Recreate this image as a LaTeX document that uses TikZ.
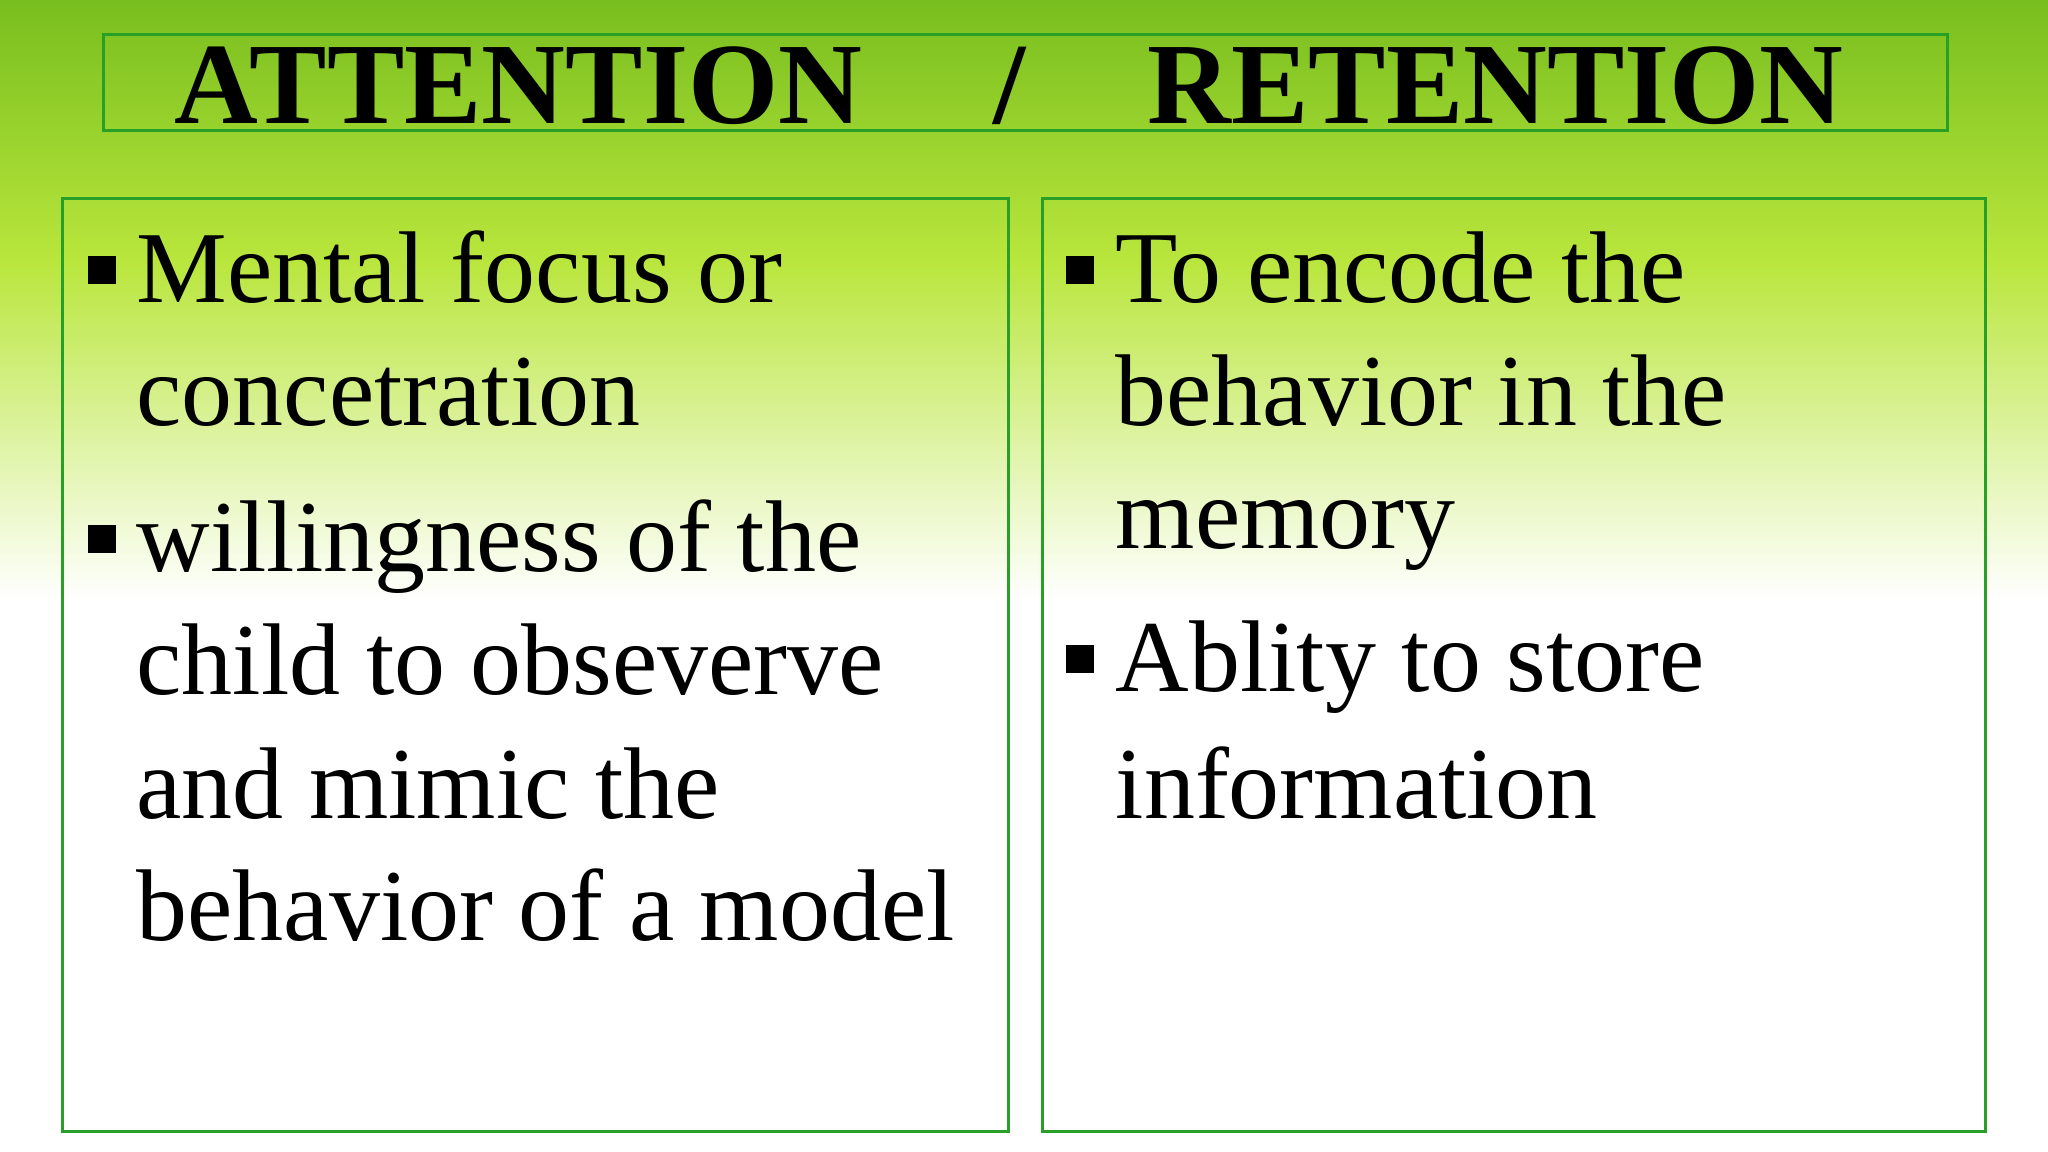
\documentclass[tikz,border=0pt]{standalone}
\usepackage{fontspec}
\setmainfont{Liberation Serif}
\definecolor{topg}{RGB}{120,190,30}
\definecolor{midg}{RGB}{185,230,60}
\definecolor{boxg}{RGB}{40,160,40}
\tikzset{
  panel/.style={draw=boxg,line width=0.9pt},
  txt/.style={anchor=base west,inner sep=0pt,font=\fontsize{29}{33}\selectfont},
  ttl/.style={anchor=base west,inner sep=0pt,font=\bfseries\fontsize{33}{36}\selectfont},
  bul/.style={fill=black,minimum size=0.28cm,inner sep=0pt}
}
\begin{document}
\begin{tikzpicture}
\useasboundingbox (0,0) rectangle (20.48,-11.52);
\fill[white] (0,0) rectangle (20.48,-11.52);
\shade[top color=topg,bottom color=midg] (0,0) rectangle (20.48,-2.6);
\shade[top color=midg,bottom color=white] (0,-2.6) rectangle (20.48,-6.0);
\node[panel,minimum width=18.44cm,minimum height=0.96cm,anchor=north west] (tb) at (1.02,-0.33) {};
\node[ttl] (t1) at (1.74,-1.24) {ATTENTION};
\node[ttl] (t2) at (9.93,-1.24) {/};
\node[ttl] (t3) at (11.47,-1.24) {RETENTION};
\node[panel,minimum width=9.46cm,minimum height=9.33cm,anchor=north west] (lb) at (0.61,-1.97) {};
\node[panel,minimum width=9.43cm,minimum height=9.33cm,anchor=north west] (rb) at (10.41,-1.97) {};
% left
\node[bul] (lb1) at (1.02,-2.70) {};
\node[txt] (l1) at (1.36,-3.03) {Mental focus or};
\node[txt] (l2) at (1.36,-4.26) {concetration};
\node[bul] (lb2) at (1.02,-5.39) {};
\node[txt] (l3) at (1.36,-5.72) {willingness of the};
\node[txt] (l4) at (1.36,-6.95) {child to obseverve};
\node[txt] (l5) at (1.36,-8.18) {and mimic the};
\node[txt] (l6) at (1.36,-9.40) {behavior of a model};
% right
\node[bul] (rb1) at (10.80,-2.70) {};
\node[txt] (r1) at (11.15,-3.03) {To encode the};
\node[txt] (r2) at (11.15,-4.26) {behavior in the};
\node[txt] (r3) at (11.15,-5.49) {memory};
\node[bul] (rb2) at (10.80,-6.59) {};
\node[txt] (r4) at (11.15,-6.92) {Ablity to store};
\node[txt] (r5) at (11.15,-8.18) {information};
\end{tikzpicture}
\end{document}
